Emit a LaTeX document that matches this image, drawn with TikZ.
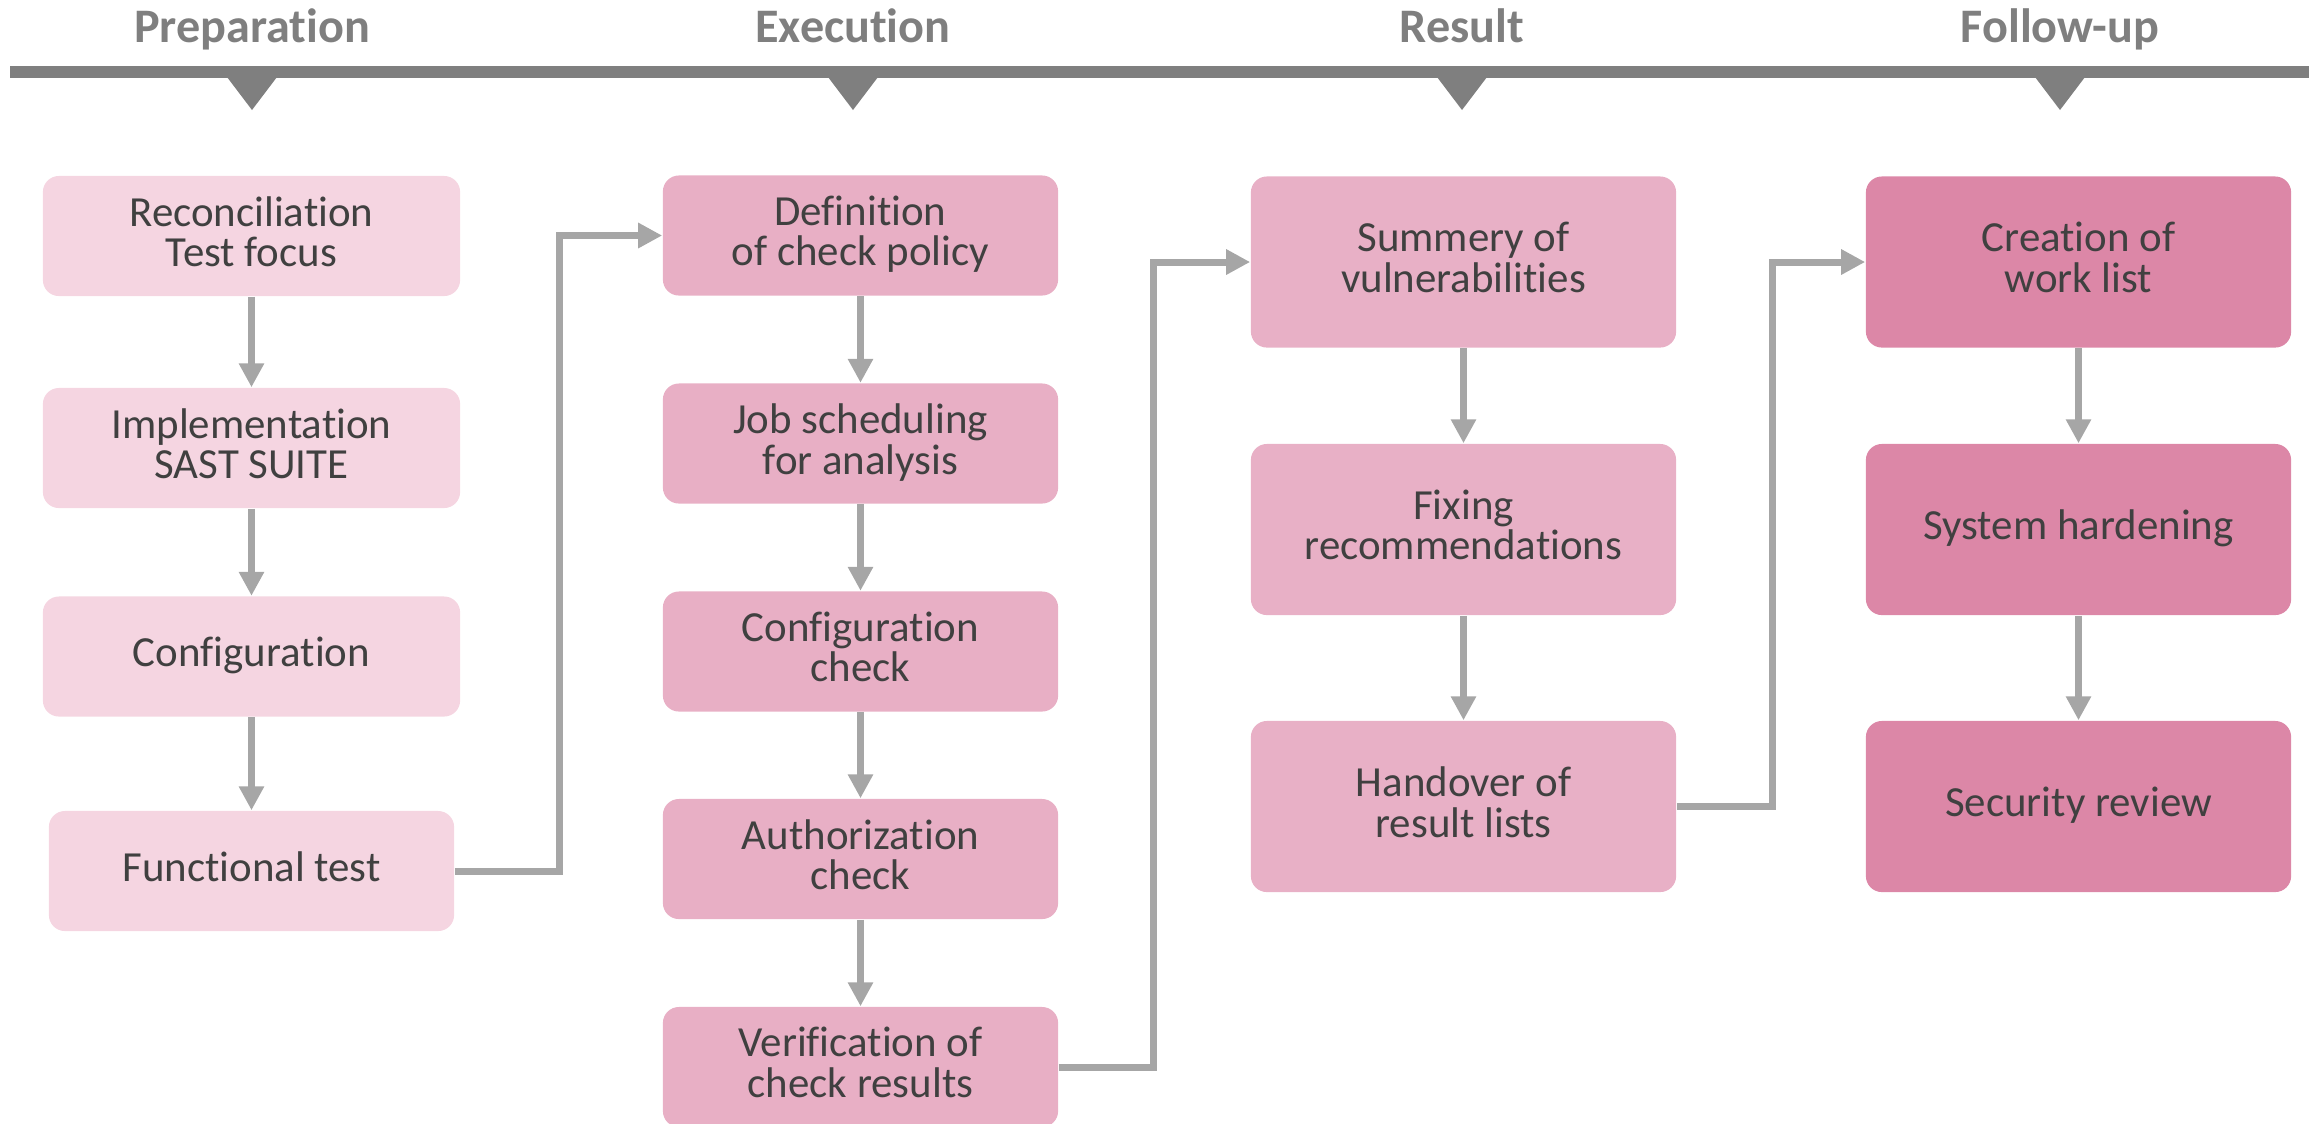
\documentclass[tikz,border=0pt]{standalone}
\usepackage{fontspec}
\setmainfont{Carlito}[Ligatures=NoCommon]
\usetikzlibrary{arrows.meta}

\definecolor{bargray}{HTML}{7F7F7F}
\definecolor{linkgray}{HTML}{A6A6A6}
\definecolor{inkgray}{HTML}{404040}
\definecolor{prepfill}{HTML}{F5D5E1}
\definecolor{execfill}{HTML}{E8AFC5}
\definecolor{resfill}{HTML}{E8B0C6}
\definecolor{follfill}{HTML}{DC87A7}

\tikzset{
  stage/.style={rounded corners=0.16cm, align=center, text=inkgray, inner sep=0pt,
                text depth=2.6pt, font=\fontsize{12.2}{11.5}\selectfont},
  prep/.style={stage, fill=prepfill, minimum width=4.17cm, minimum height=1.2cm},
  exec/.style={stage, fill=execfill, minimum width=3.95cm, minimum height=1.2cm},
  res/.style={stage, fill=resfill, minimum width=4.25cm, minimum height=1.71cm},
  foll/.style={stage, fill=follfill, minimum width=4.25cm, minimum height=1.71cm},
  link/.style={draw=linkgray, line width=0.07cm, -{Triangle[length=0.24cm,width=0.24cm]}},
  phase/.style={text=bargray, font=\fontsize{13.7}{15}\selectfont\bfseries, anchor=base, inner sep=0pt},
  marker/.style={fill=bargray, draw=none},
}

\begin{document}
\begin{tikzpicture}[x=0.01cm, y=-0.01cm]
\useasboundingbox (0,0) rectangle (2321,1123);

% timeline bar with phase titles and markers
\fill[bargray] (10,66) rectangle (2309,78);
\foreach \cx/\nm/\ttl in {252/pA/Preparation, 853/pB/Execution, 1462/pC/Result, 2060/pD/Follow-up}{
  \node[phase] (\nm) at (\cx,42) {\ttl};
  \fill[marker] (\cx-25,77) -- (\cx+25,77) -- (\cx,110) -- cycle;
}

% Preparation
\node[prep] (a1) at (251.5,236) {Reconciliation\\Test focus};
\node[prep] (a2) at (251.5,448) {Implementation\\SAST SUITE};
\node[prep] (a3) at (251.5,656.5) {Configuration};
\node[prep, minimum width=4.05cm] (a4) at (251.5,871) {Functional test};

% Execution
\node[exec] (b1) at (860.5,235.5) {Definition\\of check policy};
\node[exec] (b2) at (860.5,443.5) {Job scheduling\\for analysis};
\node[exec] (b3) at (860.5,651.5) {Configuration\\check};
\node[exec] (b4) at (860.5,859) {Authorization\\check};
\node[exec] (b5) at (860.5,1067) {Verification of\\check results};

% Result
\node[res] (c1) at (1463.5,262) {Summery of\\vulnerabilities};
\node[res] (c2) at (1463.5,529.5) {Fixing\\recommendations};
\node[res] (c3) at (1463.5,806.5) {Handover of\\result lists};

% Follow-up
\node[foll] (d1) at (2078.5,262) {Creation of\\work list};
\node[foll] (d2) at (2078.5,529.5) {System hardening};
\node[foll] (d3) at (2078.5,806.5) {Security review};

% flow within each phase
\draw[link] (a1) -- (a2);
\draw[link] (a2) -- (a3);
\draw[link] (a3) -- (a4);
\draw[link] (b1) -- (b2);
\draw[link] (b2) -- (b3);
\draw[link] (b3) -- (b4);
\draw[link] (b4) -- (b5);
\draw[link] (c1) -- (c2);
\draw[link] (c2) -- (c3);
\draw[link] (d1) -- (d2);
\draw[link] (d2) -- (d3);

% hand-over between phases
\coordinate (j1) at (559,0);
\coordinate (j2) at (1153,0);
\coordinate (j3) at (1772,0);
\draw[link] (a4.east) -- (a4.east -| j1) -- (b1.west -| j1) -- (b1.west);
\draw[link] (b5.east) -- (b5.east -| j2) -- (c1.west -| j2) -- (c1.west);
\draw[link] (c3.east) -- (c3.east -| j3) -- (d1.west -| j3) -- (d1.west);
\end{tikzpicture}
\end{document}
